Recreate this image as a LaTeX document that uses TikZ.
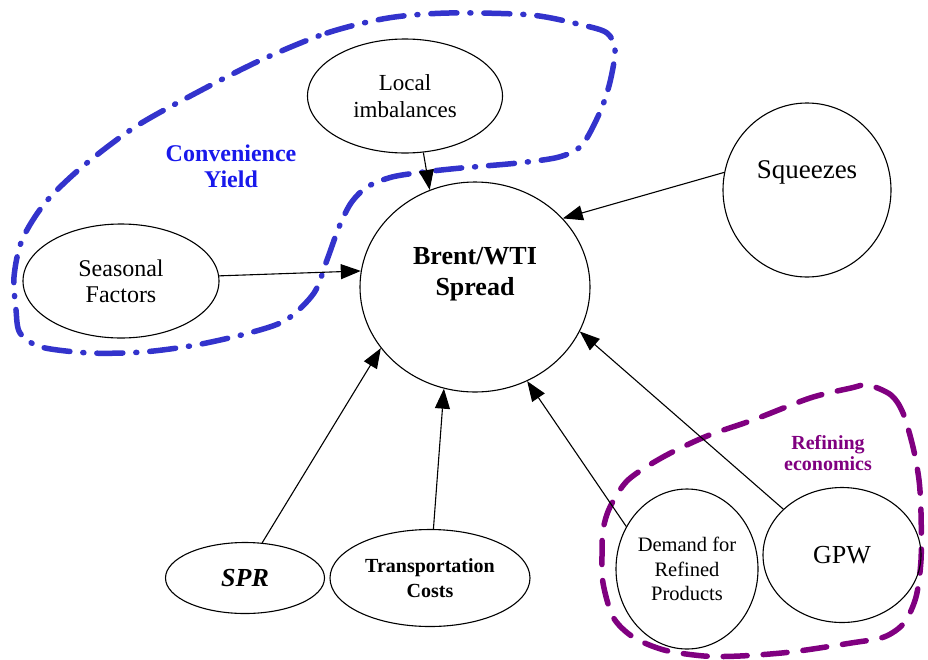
\documentclass[tikz,border=0pt]{standalone}
\usepackage{fontspec}
\setmainfont{Liberation Serif}
\usepackage{xcolor}
\usetikzlibrary{shapes.geometric,arrows.meta}

\definecolor{cyblue}{RGB}{51,51,204}
\definecolor{cytext}{RGB}{25,25,235}
\definecolor{refpurple}{RGB}{128,0,128}
\newcommand{\fsz}[2]{\fontsize{#1}{#2}\selectfont}

\begin{document}
\begin{tikzpicture}[x=1pt,y=-1pt,
  bubble/.style={draw,ellipse,line width=1.1pt,inner sep=0pt,align=center},
  link/.style={-{Triangle[length=20pt,width=15pt]},line width=1.1pt},
  cyline/.style={draw=cyblue,line width=5.5pt,line cap=round,dash pattern=on 26pt off 13pt on 1pt off 13pt},
  refline/.style={draw=refpurple,line width=5.5pt,line cap=round,dash pattern=on 24pt off 16pt}]

\useasboundingbox (0,0) rectangle (928,659);

% convenience yield loop
\draw[cyline] plot[smooth cycle] coordinates {(261,60) (327,33) (388,18) (449,13) (531,15) (582,25) (607,33) (615,50) (610,82) (600,112) (582,145) (559,157) (518,163) (461,168) (424,172) (392,177) (367,187) (351,203) (339,227) (327,260) (314,293) (286,320) (249,333) (196,345) (143,352) (90,353) (41,347) (20,333) (16,310) (14,277) (22,240) (45,203) (82,167) (135,127) (196,93)};
\node[font=\fsz{24}{26}\bfseries,text=cytext,align=center] (cylabel) at (231,166) {Convenience\\Yield};

% refining economics loop
\draw[refline] plot[smooth cycle] coordinates {(868,385) (891,395) (903,413) (913,447) (919,480) (921,513) (921,560) (916,597) (904,623) (884,637) (851,643) (791,652) (740,656) (704,656) (664,650) (633,637) (613,617) (603,583) (602,555) (603,530) (610,507) (628,480) (663,457) (707,436) (753,420) (810,398) (851,388)};
\node[font=\fsz{20}{21}\bfseries,text=refpurple,align=center] (reflabel) at (828,453) {Refining\\economics};

% the spread
\node[bubble,minimum width=230pt,minimum height=210pt,
  label={[font=\fsz{26}{31}\bfseries,align=center,yshift=13pt]center:Brent/WTI\\Spread}] (spread) at (475,287) {};

% drivers
\node[bubble,minimum width=195pt,minimum height=114pt,font=\fsz{23}{27}] (local) at (405,96) {Local\\imbalances};
\node[bubble,minimum width=196pt,minimum height=114pt,font=\fsz{24}{26}] (seasonal) at (121,281) {Seasonal\\Factors};
\node[bubble,minimum width=168pt,minimum height=174pt,
  label={[font=\fsz{27}{30},yshift=18pt]center:Squeezes}] (squeeze) at (807,190) {};
\node[bubble,minimum width=159pt,minimum height=71pt,font=\fsz{26}{30}\bfseries\itshape] (spr) at (245,578) {SPR};
\node[bubble,minimum width=200pt,minimum height=97pt,font=\fsz{20}{25}\bfseries] (transport) at (430,578) {Transportation\\Costs};
\node[bubble,minimum width=142pt,minimum height=160pt,font=\fsz{20.5}{24.5}] (demand) at (687,569) {Demand for\\Refined\\Products};
\node[bubble,minimum width=158pt,minimum height=135pt,font=\fsz{26}{30}] (gpw) at (842,555) {GPW};

% arrows into the spread
\draw[link] (local.-72) -- (spread.115);
\draw[link] (seasonal.3) -- (spread.172);
\draw[link] (squeeze.168) -- (spread.38);
\draw[link] (spr.64) -- (spread.213);
\draw[link] (transport.86) -- (spread.253);
\draw[link] (demand.145) -- (spread.299);
\draw[link] (gpw.142) -- (spread.337);
\end{tikzpicture}
\end{document}
